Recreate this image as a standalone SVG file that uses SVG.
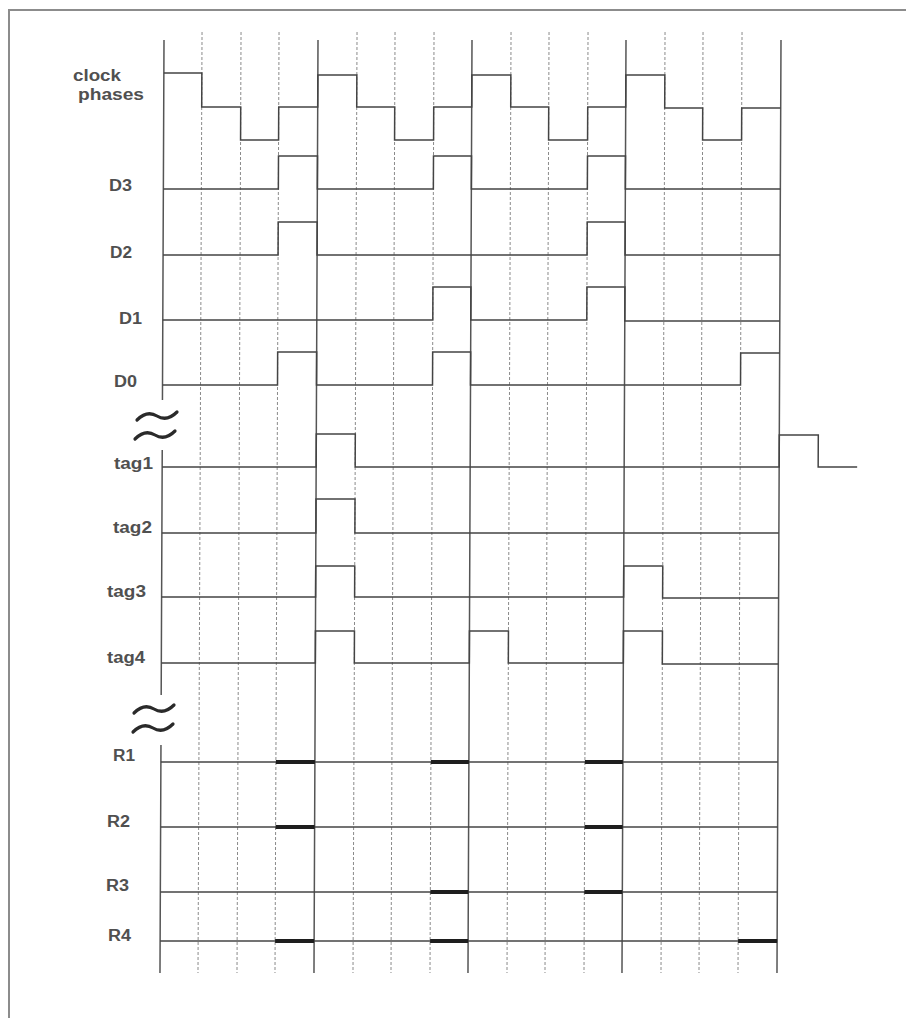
<svg xmlns="http://www.w3.org/2000/svg" width="906" height="1018" viewBox="0 0 906 1018">
  <style>
    .lbl { font-family: "Liberation Sans", Arial, sans-serif; font-weight: bold; font-size: 16px; fill: #505050; }
    .solid { stroke: #555; stroke-width: 1.5; fill: none; }
    .dash { stroke: #8a8a8a; stroke-width: 1; stroke-dasharray: 3 2; fill: none; }
    .wave { stroke: #444; stroke-width: 1.5; fill: none; stroke-linejoin: miter; }
    .bit { stroke: #1e1e1e; stroke-width: 4; fill: none; }
    .tilde { stroke: #2a2a2a; stroke-width: 3.2; fill: none; stroke-linecap: round; }
  </style>
  <rect width="906" height="1018" fill="#ffffff"/>
  <g id="frame">
    <path d="M9,1018 V10 H906" fill="none" stroke="#8c8c8c" stroke-width="2"/>
  </g>

  <g id="labels">
    <text class="lbl" x="73" y="81" textLength="48" lengthAdjust="spacingAndGlyphs">clock</text>
    <text class="lbl" x="78" y="100" textLength="66" lengthAdjust="spacingAndGlyphs">phases</text>
    <text class="lbl" x="109" y="191" textLength="23" lengthAdjust="spacingAndGlyphs">D3</text>
    <text class="lbl" x="110" y="258" textLength="22" lengthAdjust="spacingAndGlyphs">D2</text>
    <text class="lbl" x="119" y="324" textLength="23" lengthAdjust="spacingAndGlyphs">D1</text>
    <text class="lbl" x="114" y="387" textLength="23" lengthAdjust="spacingAndGlyphs">D0</text>
    <text class="lbl" x="114" y="469" textLength="39" lengthAdjust="spacingAndGlyphs">tag1</text>
    <text class="lbl" x="113" y="533" textLength="39" lengthAdjust="spacingAndGlyphs">tag2</text>
    <text class="lbl" x="107" y="597" textLength="39" lengthAdjust="spacingAndGlyphs">tag3</text>
    <text class="lbl" x="107" y="663" textLength="38" lengthAdjust="spacingAndGlyphs">tag4</text>
    <text class="lbl" x="113" y="761" textLength="22" lengthAdjust="spacingAndGlyphs">R1</text>
    <text class="lbl" x="107" y="827" textLength="23" lengthAdjust="spacingAndGlyphs">R2</text>
    <text class="lbl" x="106" y="891" textLength="23" lengthAdjust="spacingAndGlyphs">R3</text>
    <text class="lbl" x="108" y="941" textLength="23" lengthAdjust="spacingAndGlyphs">R4</text>
  </g>

  <g id="breaks">
    <path class="tilde" d="M137,420 Q147,410 157,416 T177,412"/>
    <path class="tilde" d="M135,439 Q145,429 155,435 T175,431"/>
    <path class="tilde" d="M134,713 Q144,703 154,709 T174,705"/>
    <path class="tilde" d="M133,732 Q143,722 153,728 T173,724"/>
  </g>

  <g id="chart" transform="matrix(1 0 -0.0043 1 0.172 0)">
    <g id="grid">
      <path class="dash" d="M202,32 V973 M241,32 V973 M279,32 V973 M357,32 V973 M395,32 V973 M434,32 V973 M511,32 V973 M549,32 V973 M588,32 V973 M665,32 V973 M703,32 V973 M742,32 V973"/>
      <path class="solid" d="M164,40 V400 M164,450 V695 M164,745 V973 M318,40 V973 M472,40 V973 M626,40 V973 M781,40 V973"/>
    </g>
    <g id="connectors">
      <g id="sig-clock"><path class="wave" d="M164,73 H202 V107 H241 V140 H279 V107 H318 V75 H357 V107 H395 V140 H434 V107 H472 V75 H511 V107 H549 V140 H588 V107 H626 V75 H665 V108 H703 V140 H742 V108 H781"/></g>
      <g id="sig-D3"><path class="wave" d="M164,189 H279 V156 H318 V189 H434 V156 H472 V189 H588 V156 H626 V189 H781"/></g>
      <g id="sig-D2"><path class="wave" d="M164,255 H279 V222 H318 V255 H588 V222 H626 V255 H781"/></g>
      <g id="sig-D1"><path class="wave" d="M164,320 H434 V287 H472 V320 H588 V287 H626 V321 H781"/></g>
      <g id="sig-D0"><path class="wave" d="M164,385 H279 V352 H318 V385 H434 V352 H472 V385 H742 V353 H781"/></g>
      <g id="sig-tag1"><path class="wave" d="M164,467 H318 V434 H357 V467 H781 V435 H820 V467 H859"/></g>
      <g id="sig-tag2"><path class="wave" d="M164,533 H318 V499 H357 V533 H781"/></g>
      <g id="sig-tag3"><path class="wave" d="M164,597 H318 V566 H357 V597 H626 V566 H665 V598 H781"/></g>
      <g id="sig-tag4"><path class="wave" d="M164,663 H318 V631 H357 V663 H472 V631 H511 V663 H626 V631 H665 V664 H781"/></g>
      <g id="sig-R1">
        <path class="wave" d="M164,762 H781"/>
        <path class="bit" d="M279,762 H318 M434,762 H472 M588,762 H626"/>
      </g>
      <g id="sig-R2">
        <path class="wave" d="M164,827 H781"/>
        <path class="bit" d="M279,827 H318 M588,827 H626"/>
      </g>
      <g id="sig-R3">
        <path class="wave" d="M164,892 H781"/>
        <path class="bit" d="M434,892 H472 M588,892 H626"/>
      </g>
      <g id="sig-R4">
        <path class="wave" d="M164,941 H781"/>
        <path class="bit" d="M279,941 H318 M434,941 H472 M742,941 H781"/>
      </g>
    </g>
  </g>
</svg>
